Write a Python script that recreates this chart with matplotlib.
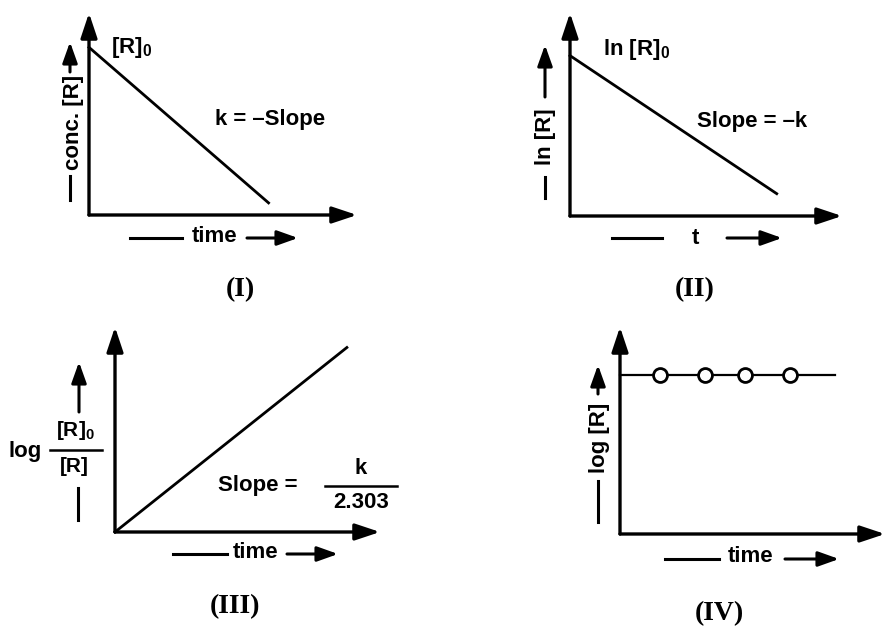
import matplotlib
matplotlib.use("Agg")
import matplotlib.pyplot as plt

conc_time = [0, 6.7]
conc_R = [8.3, 0.6]

ln_t = [0, 7.6]
ln_R = [7.9, 1.1]

ratio_time = [0, 8.75]
log_ratio = [0, 9.0]

logR_time = [0, 8.1]
logR_value = [7.7, 7.7]
point_time = [1.5, 3.2, 4.7, 6.4]
point_logR = [7.7, 7.7, 7.7, 7.7]

panel_names = ["(I)", "(II)", "(III)", "(IV)"]

W, H = 885, 629
plt.rcParams['font.family'] = ['Liberation Sans', 'DejaVu Sans']
plt.rcParams['font.weight'] = 'bold'
plt.rcParams['mathtext.fontset'] = 'custom'
plt.rcParams['mathtext.rm'] = 'Liberation Sans:bold'
plt.rcParams['mathtext.bf'] = 'Liberation Sans:bold'
plt.rcParams['mathtext.it'] = 'Liberation Sans:bold:italic'

FS = 16
fig = plt.figure(figsize=(W / 100, H / 100), dpi=100)


def P(x, y):
    """pixel position -> figure fraction"""
    return (x / W, 1 - y / H)


def make_axes(left, top, right, bottom):
    ax = fig.add_axes([left / W, 1 - bottom / H, (right - left) / W, (bottom - top) / H])
    ax.set_xlim(0, 10)
    ax.set_ylim(0, 10)
    ax.axis('off')
    big = dict(arrowstyle='-|>,head_length=0.75,head_width=0.25', lw=2.4, color='black',
               shrinkA=0, shrinkB=0, mutation_scale=20)
    ax.annotate('', xy=(1, 0), xytext=(0, 0), xycoords='axes fraction',
                textcoords='axes fraction', arrowprops=big, annotation_clip=False)
    ax.annotate('', xy=(0, 1), xytext=(0, 0), xycoords='axes fraction',
                textcoords='axes fraction', arrowprops=big, annotation_clip=False)
    return ax


small = dict(arrowstyle='-|>,head_length=0.7,head_width=0.25', lw=2.2, color='black',
             shrinkA=0, shrinkB=0, mutation_scale=18)


def arrow(x0, y0, x1, y1):
    plt.annotate('', xy=P(x1, y1), xytext=P(x0, y0), xycoords='figure fraction',
                 textcoords='figure fraction', arrowprops=small, annotation_clip=False)


def dash(x0, y0, x1, y1, lw=2.2):
    a, b = P(x0, y0)
    c, d = P(x1, y1)
    fig.add_artist(plt.Line2D([a, c], [b, d], color='black', lw=lw,
                              transform=fig.transFigure))


def txt(x, y, s, **kw):
    opts = dict(fontsize=FS, ha='left', va='center', fontweight='bold')
    opts.update(kw)
    fig.text(*P(x, y), s, **opts)


def title(x, y, s):
    fig.text(*P(x, y), s, fontsize=20, ha='center', va='center',
             family='Liberation Serif', fontweight='bold')


# (I) zero order, conc vs time
ax1 = make_axes(89, 13, 357, 215)
ax1.plot(conc_time, conc_R, color='black', lw=2, clip_on=False)
txt(111, 47, r'[R]$_{\mathbf{0}}$')
txt(215, 120, 'k = –Slope')
txt(73, 122, 'conc. [R]', rotation=90, ha='center')
dash(70, 176, 70, 200)
arrow(70, 72, 70, 42)
dash(130, 238, 182, 238)
txt(215, 236, 'time', ha='center')
arrow(247, 238, 298, 238)
title(240, 290, panel_names[0])

# (II) first order, ln[R] vs t
ax2 = make_axes(570, 13, 842, 216)
ax2.plot(ln_t, ln_R, color='black', lw=2, clip_on=False)
txt(603, 49, r'ln [R]$_{\mathbf{0}}$')
txt(697, 122, 'Slope = –k')
txt(546, 137, 'ln [R]', rotation=90, ha='center')
dash(545, 177, 545, 198)
arrow(545, 97, 545, 45)
dash(612, 238, 662, 238)
txt(695, 238, 't', ha='center')
arrow(727, 238, 782, 238)
title(695, 290, panel_names[1])

# (III) log([R]0/[R]) vs time
ax3 = make_axes(115, 327, 380, 532)
ax3.plot(ratio_time, log_ratio, color='black', lw=2, clip_on=False)
txt(9, 452, 'log')
txt(75, 431, r'[R]$_{\mathbf{0}}$', ha='center', fontsize=FS - 1)
dash(50, 450, 102, 450, lw=1.8)
txt(74, 467, '[R]', ha='center', fontsize=FS - 1)
arrow(79, 412, 79, 362)
dash(78, 488, 78, 520)
txt(218, 486, 'Slope =')
txt(361, 469, 'k', ha='center')
dash(325, 486, 397, 486, lw=1.8)
txt(361, 503, '2.303', ha='center')
dash(173, 554, 227, 554)
txt(256, 552, 'time', ha='center')
arrow(287, 554, 338, 554)
title(235, 607, panel_names[2])

# (IV) log[R] vs time, constant
ax4 = make_axes(620, 327, 885, 534)
ax4.plot(logR_time, logR_value, color='black', lw=1.6, clip_on=False)
ax4.plot(point_time, point_logR, 'o', ms=10, mfc='white', mec='black', mew=2,
         clip_on=False)
txt(600, 438, 'log [R]', rotation=90, ha='center')
dash(598, 481, 598, 522)
arrow(598, 394, 598, 365)
dash(665, 559, 719, 559)
txt(751, 557, 'time', ha='center')
arrow(785, 559, 839, 559)
title(719, 614, panel_names[3])

fig.savefig('out.png', dpi=100)
